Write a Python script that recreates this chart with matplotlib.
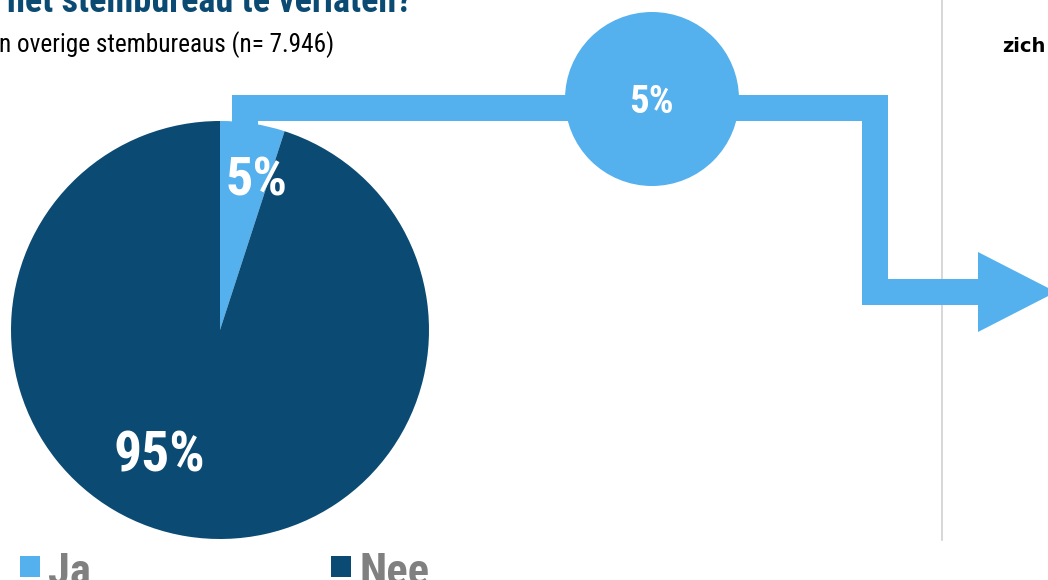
import matplotlib
matplotlib.use("Agg")
import matplotlib.pyplot as plt
from matplotlib.patches import Circle, Polygon, Rectangle

plt.rcParams['font.family'] = ['Roboto Condensed', 'Liberation Sans Narrow', 'DejaVu Sans']
plt.rcParams['font.stretch'] = 'condensed'

# data
categories = ['Ja', 'Nee']
shares = [5, 95]
labels = ['5%', '95%']
flow_label = '5%'
colors = ['#55B0EE', '#0B4B73']

title_tail = 'het stembureau te verlaten?'
subtitle = 'n overige stembureaus (n= 7.946)'
right_text = 'zich'

W, H = 1048, 580
fig = plt.figure(figsize=(W / 100, H / 100), dpi=100)
ax = fig.add_axes([0, 0, 1, 1])

# divider
ax.plot([942, 942], [0, 540], color='#d0d0d0', lw=1.2, zorder=1)

# pie (y axis is inverted below, so start at -90 and run counterclockwise
# in data space to get a clockwise slice from 12 o'clock on screen)
ax.pie(shares, colors=colors, startangle=-90, counterclock=True,
       center=(220, 330), radius=209, frame=True,
       wedgeprops=dict(linewidth=0), normalize=True)
ax.set_xlim(0, W)
ax.set_ylim(H, 0)
ax.set_aspect('equal')
ax.axis('off')

# flow band out of the Ja slice
band_w = 26 * 72 / 100
ax.plot([245, 245, 875, 875, 978], [125, 108, 108, 291.5, 291.5],
        color=colors[0], lw=band_w, solid_joinstyle='miter',
        solid_capstyle='butt', zorder=3)
ax.add_patch(Polygon([(978, 252), (978, 332), (1056, 292)],
                     closed=True, color=colors[0], lw=0, zorder=3))
ax.add_patch(Circle((652, 99), 87, color=colors[0], lw=0, zorder=4))
ax.text(651, 113, flow_label, color='white', fontsize=28, fontweight='bold',
        ha='center', va='baseline', zorder=5)

# pie labels
ax.text(256, 196, labels[0], color='white', fontsize=39, fontweight='bold',
        ha='center', va='baseline', zorder=5)
ax.text(159, 472, labels[1], color='white', fontsize=40, fontweight='bold',
        ha='center', va='baseline', zorder=5)

# titles
ax.text(7, 12, title_tail, color='#0B4B73', fontsize=26, fontweight='bold',
        ha='left', va='baseline')
ax.text(-1, 52, subtitle, color='black', fontsize=18.2, ha='left',
        va='baseline')
ax.text(1002, 52, right_text, color='black', fontsize=14, fontweight='bold',
        family='DejaVu Sans', stretch='normal', ha='left', va='baseline')

# legend
for i, (cat, col) in enumerate(zip(categories, colors)):
    x0 = [20, 331][i]
    ax.add_patch(Rectangle((x0, 556), 20, 21, color=col, lw=0))
    ax.text(x0 + 28, 585, cat, color='#808080', fontsize=32,
            fontweight='bold', ha='left', va='baseline')

fig.savefig('out.png', dpi=100)
